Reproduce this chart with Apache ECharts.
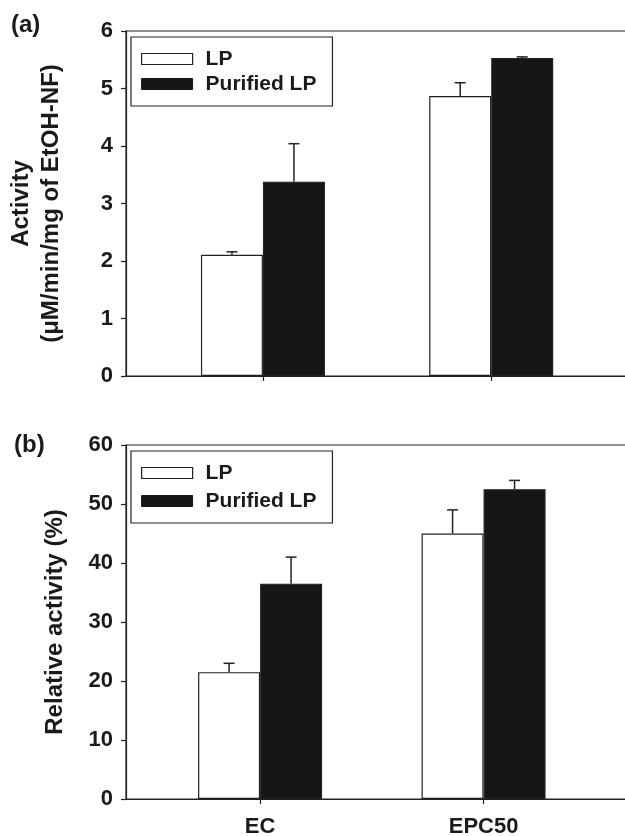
<!DOCTYPE html>
<html>
<head>
<meta charset="utf-8">
<script src="https://cdn.jsdelivr.net/npm/echarts@6/dist/echarts.min.js"></script>
<style>
html,body{margin:0;padding:0;background:#fff;}
#chart{width:625px;height:836px;}
</style>
</head>
<body>
<div id="chart"></div>
<script>
// ---- data ----
const categories = ['EC', 'EPC50'];
const catPos = [1, 2];
const seriesNames = ['LP', 'Purified LP'];
// panel (a): Activity (µM/min/mg of EtOH-NF)
const actLP = [2.11, 4.87];
const actLPErr = [0.05, 0.23];
const actPur = [3.38, 5.53];
const actPurErr = [0.66, 0.02];
// panel (b): Relative activity (%)
const relLP = [21.5, 45.0];
const relLPErr = [1.5, 4.0];
const relPur = [36.5, 52.5];
const relPurErr = [4.5, 1.5];
const yMaxA = 6, yStepA = 1;
const yMaxB = 60, yStepB = 10;

const FONT = "'Liberation Sans', Arial, Helvetica, sans-serif";
const INK = '#1a1a1a';
const BAR_W = 62;

function pairs(vals) { return vals.map((v, i) => [catPos[i], v]); }
function errPairs(vals, errs) { return vals.map((v, i) => [catPos[i], v, errs[i]]); }

function errSeries(name, gridIdx, vals, errs, side) {
  return {
    type: 'custom',
    name: name + ' err',
    xAxisIndex: gridIdx, yAxisIndex: gridIdx,
    data: errPairs(vals, errs),
    z: 5,
    silent: true,
    renderItem: function (params, api) {
      const x = api.value(0), y = api.value(1), e = api.value(2);
      const p0 = api.coord([x, y]);
      const p1 = api.coord([x, y + e]);
      const dx = side * BAR_W / 2;
      const st = { stroke: '#222', lineWidth: 1.5 };
      return {
        type: 'group',
        children: [
          { type: 'line', shape: { x1: p0[0] + dx, y1: p0[1], x2: p1[0] + dx, y2: p1[1] }, style: st },
          { type: 'line', shape: { x1: p1[0] + dx - 5.5, y1: p1[1], x2: p1[0] + dx + 5.5, y2: p1[1] }, style: st }
        ]
      };
    }
  };
}

function barSeries(name, gridIdx, vals, fill) {
  return {
    type: 'bar',
    name: name,
    xAxisIndex: gridIdx, yAxisIndex: gridIdx,
    data: pairs(vals),
    barWidth: BAR_W,
    barGap: '0%',
    itemStyle: { color: fill, borderColor: '#222', borderWidth: 1.2 },
    emphasis: { disabled: true },
    animation: false
  };
}

const yAxisCommon = {
  type: 'value',
  min: 0,
  axisLine: { show: true, lineStyle: { color: '#222', width: 1.2 } },
  axisTick: { show: true, inside: false, length: 5, lineStyle: { color: '#222', width: 1.2 } },
  axisLabel: { color: INK, fontFamily: FONT, fontWeight: 'bold', fontSize: 22, margin: 13 },
  splitLine: { show: false },
  nameLocation: 'middle',
  nameRotate: 90,
  nameTextStyle: { color: INK, fontFamily: FONT, fontWeight: 'bold', fontSize: 24, lineHeight: 30 }
};

function xAxisDef(gridIdx, showLabels) {
  return {
    type: 'value',
    gridIndex: gridIdx,
    min: 0.4, max: 2.7,
    axisLine: { show: true, onZero: false, lineStyle: { color: '#222', width: 1.2 } },
    axisTick: { show: true, inside: false, length: 5, customValues: catPos, lineStyle: { color: '#222', width: 1.2 } },
    axisLabel: {
      show: showLabels, customValues: catPos, margin: 17,
      color: INK, fontFamily: FONT, fontWeight: 'bold', fontSize: 22,
      formatter: v => categories[catPos.indexOf(v)] || ''
    },
    splitLine: { show: false }
  };
}

function legendDef(top, gap) {
  return {
    data: [
      { name: seriesNames[0], itemStyle: { color: '#fff', borderColor: '#222', borderWidth: 1.2 } },
      { name: seriesNames[1], itemStyle: { color: '#161616', borderColor: '#161616', borderWidth: 1 } }
    ],
    orient: 'vertical',
    left: 131, top: top,
    padding: [11.5, 16, 11.5, 10],
    itemWidth: 51, itemHeight: 11, itemGap: gap,
    icon: 'rect',
    borderColor: '#222', borderWidth: 1.2,
    selectedMode: false,
    textStyle: { color: INK, fontFamily: FONT, fontWeight: 'bold', fontSize: 21, lineHeight: 21, padding: [0, 0, 0, 8] }
  };
}

const chart = echarts.init(document.getElementById('chart'), null, { renderer: 'canvas' });
chart.setOption({
  animation: false,
  backgroundColor: '#fff',
  title: [
    { text: '(a)', left: 6, top: 8, textStyle: { color: INK, fontFamily: FONT, fontWeight: 'bold', fontSize: 24 } },
    { text: '(b)', left: 9, top: 428, textStyle: { color: INK, fontFamily: FONT, fontWeight: 'bold', fontSize: 24 } }
  ],
  legend: [legendDef(37, 4), legendDef(451, 7)],
  grid: [
    { left: 126, top: 31, width: 525, height: 345, outerBoundsMode: 'none', containLabel: false, show: true, borderColor: '#222', borderWidth: 1.2, backgroundColor: 'transparent' },
    { left: 126, top: 445, width: 514, height: 354, outerBoundsMode: 'none', containLabel: false, show: true, borderColor: '#222', borderWidth: 1.2, backgroundColor: 'transparent' }
  ],
  xAxis: [xAxisDef(0, false), xAxisDef(1, true)],
  yAxis: [
    Object.assign({}, yAxisCommon, { gridIndex: 0, max: yMaxA, interval: yStepA, name: 'Activity\n(\u03bcM/min/mg of EtOH-NF)', nameGap: 60 }),
    Object.assign({}, yAxisCommon, { gridIndex: 1, max: yMaxB, interval: yStepB, name: 'Relative activity (%)', nameGap: 56 })
  ],
  series: [
    barSeries(seriesNames[0], 0, actLP, '#fff'),
    barSeries(seriesNames[1], 0, actPur, '#161616'),
    barSeries(seriesNames[0], 1, relLP, '#fff'),
    barSeries(seriesNames[1], 1, relPur, '#161616'),
    errSeries(seriesNames[0], 0, actLP, actLPErr, -1),
    errSeries(seriesNames[1], 0, actPur, actPurErr, 1),
    errSeries(seriesNames[0], 1, relLP, relLPErr, -1),
    errSeries(seriesNames[1], 1, relPur, relPurErr, 1)
  ]
});
</script>
</body>
</html>
